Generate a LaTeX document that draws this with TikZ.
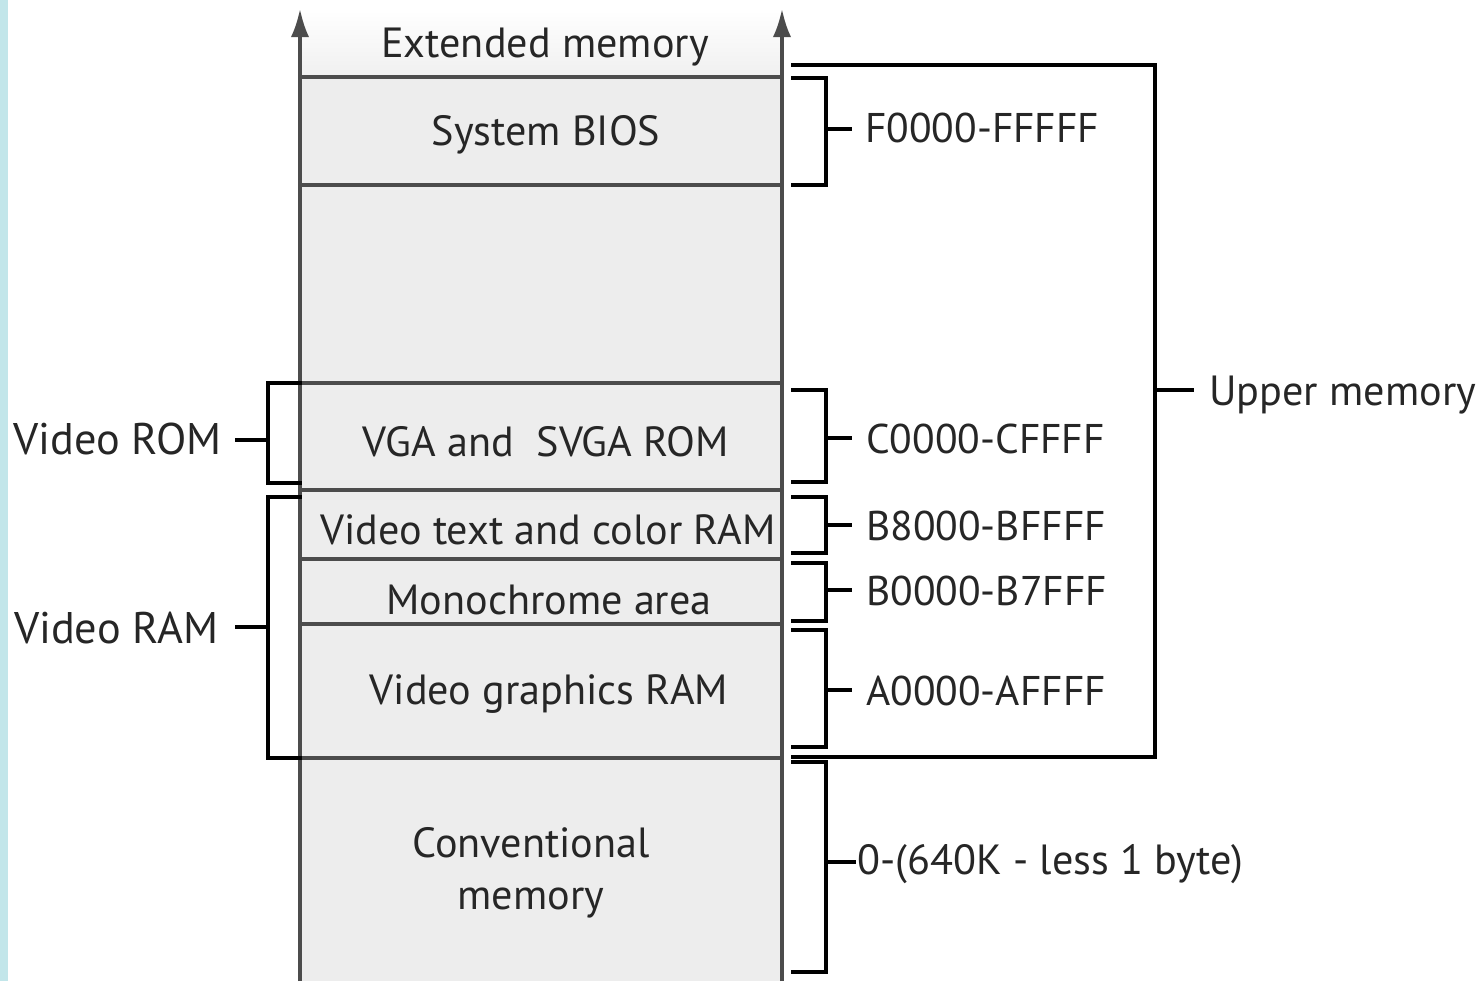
\documentclass[tikz,border=0pt]{standalone}
\usepackage{fontspec}
\setmainfont{PT Sans}
\usetikzlibrary{arrows.meta}
\begin{document}
\begin{tikzpicture}[x=0.025cm,y=-0.025cm,
  colline/.style={draw=black!70, line width=2.2pt},
  brk/.style={draw=black, line width=2.6pt, line cap=rect},
  txt/.style={font=\fontsize{30}{36}\selectfont, inner sep=0pt, text=black!85},
  lab/.style={txt, anchor=west},
  hex/.style={lab, font=\fontsize{29.5}{36}\selectfont},
  side/.style={txt, anchor=east, font=\fontsize{31.5}{36}\selectfont},
  fillgray/.style={fill=black!7}]
\definecolor{stripblue}{RGB}{194,230,234}
\useasboundingbox (0,0) rectangle (1480,981);
\fill[white] (0,0) rectangle (1480,981);
\fill[stripblue] (0,0) rectangle (8,981);
% column fills
\shade[top color=white, bottom color=black!6] (300,10) rectangle (782,77);
\fill[fillgray] (300,77) rectangle (782,981);
% column sides with arrows
\coordinate (lb) at (300,981); \coordinate (lt) at (300,9);
\coordinate (rb) at (782,981); \coordinate (rt) at (782,9);
\draw[colline,-{Latex[length=20pt,width=13pt]}] (lb) -- (lt);
\draw[colline,-{Latex[length=20pt,width=13pt]}] (rb) -- (rt);
% separators
\foreach \y in {77,185,383,490,559,624,758}{
  \draw[colline] (300,\y) -- (782,\y);
}
% block texts
\node[txt] (ext) at (545,47) {Extended memory};
\node[txt] (bios) at (546,135) {System BIOS};
\node[txt] (vga) at (546,442) {VGA and\ \ SVGA ROM};
\node[txt] (vtext) at (548,530) {Video text and color RAM};
\node[txt] (mono) at (549,600) {Monochrome area};
\node[txt] (vgfx) at (549,694) {Video graphics RAM};
\node[txt, align=center, font=\fontsize{30}{37}\selectfont] (conv) at (531,873) {Conventional\\memory};
% right labels
\node[hex] (f0) at (865,128) {F0000-FFFFF};
\node[hex] (c0) at (866,439) {C0000-CFFFF};
\node[hex] (b8) at (866,526) {B8000-BFFFF};
\node[hex] (b0) at (866,591) {B0000-B7FFF};
\node[hex] (a0) at (866,691) {A0000-AFFFF};
\node[lab] (cm) at (857,864) {0-(640K - less 1 byte)};
\node[lab] (um) at (1209,395) {Upper memory};
% left labels
\node[side] (vrom) at (222,439) {Video ROM};
\node[side] (vram) at (219,628) {Video RAM};
% right brackets
\draw[brk] (793,78) -- (826,78) -- (826,185) -- (793,185);
\draw[brk] (826,129) -- (850,129);
\draw[brk] (793,390) -- (826,390) -- (826,482) -- (793,482);
\draw[brk] (826,438) -- (850,438);
\draw[brk] (793,497) -- (826,497) -- (826,553) -- (793,553);
\draw[brk] (826,525) -- (850,525);
\draw[brk] (793,563) -- (826,563) -- (826,621) -- (793,621);
\draw[brk] (826,590) -- (850,590);
\draw[brk] (793,630) -- (826,630) -- (826,747) -- (793,747);
\draw[brk] (826,690) -- (850,690);
\draw[brk] (793,762) -- (826,762) -- (826,972) -- (793,972);
\draw[brk] (826,862) -- (854,862);
% upper memory bracket
\draw[brk] (793,65) -- (1155,65) -- (1155,757) -- (793,757);
\draw[brk] (1155,390) -- (1192,390);
% left brackets
\draw[brk] (300,383) -- (268,383) -- (268,483) -- (300,483);
\draw[brk] (237,440) -- (268,440);
\draw[brk] (300,497) -- (268,497) -- (268,758) -- (300,758);
\draw[brk] (237,627) -- (268,627);
\end{tikzpicture}
\end{document}
